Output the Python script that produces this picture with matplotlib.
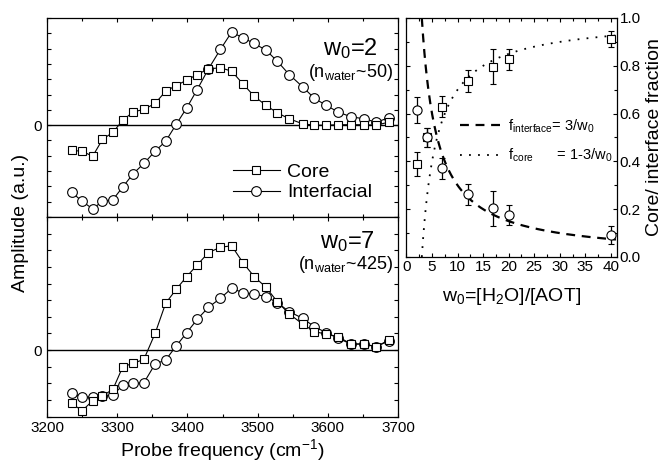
import numpy as np
import matplotlib.pyplot as plt
from matplotlib.lines import Line2D
from matplotlib.ticker import MultipleLocator

plt.rcParams['font.family'] = ['Liberation Sans', 'DejaVu Sans']
plt.rcParams['mathtext.default'] = 'regular'
plt.rcParams['xtick.direction'] = 'in'
plt.rcParams['ytick.direction'] = 'in'
plt.rcParams['axes.linewidth'] = 0.9

# probe frequencies (cm-1)
freq = [3235, 3250, 3265, 3279, 3294, 3308, 3323, 3338, 3354, 3369, 3384, 3399,
        3414, 3430, 3447, 3463, 3479, 3495, 3512, 3528, 3545, 3564, 3581, 3598,
        3615, 3633, 3651, 3669, 3687]

# w0 = 2 spectra
core_w2 = [-1.65, -1.70, -2.03, -0.93, -0.46, 0.33, 0.87, 1.03, 1.42, 2.22, 2.59, 2.94,
           3.31, 3.68, 3.75, 3.53, 2.70, 1.90, 1.29, 0.81, 0.42, 0.09, 0.0, 0.0,
           0.03, 0.03, 0.03, 0.0, 0.20]
inter_w2 = [-4.38, -4.97, -5.47, -4.97, -4.86, -4.03, -3.16, -2.50, -1.70, -1.05, 0.05, 1.13,
            2.33, 3.68, 4.95, 6.08, 5.71, 5.34, 4.90, 4.18, 3.31, 2.51, 1.75, 1.29,
            0.85, 0.55, 0.42, 0.20, 0.48]

# w0 = 7 spectra
core_w7 = [-3.21, -3.65, -3.05, -2.77, -2.35, -1.00, -0.80, -0.56, 1.00, 2.81, 3.65, 4.42,
           5.12, 5.86, 6.18, 6.27, 5.26, 4.42, 3.77, 2.91, 2.17, 1.57, 1.10, 0.96,
           0.80, 0.36, 0.36, 0.20, 0.60]
inter_w7 = [-2.57, -2.85, -2.81, -2.77, -2.71, -2.11, -2.01, -1.97, -0.84, -0.60, 0.24, 1.04,
            1.85, 2.57, 3.11, 3.71, 3.45, 3.37, 3.21, 2.85, 2.31, 1.91, 1.40, 1.04,
            0.70, 0.36, 0.36, 0.20, 0.56]

# fractions vs w0
w0 = [2, 4, 7, 12, 17, 20, 40]
core_frac = [0.389, 0.50, 0.629, 0.738, 0.796, 0.827, 0.911]
core_err = [0.052, 0.038, 0.044, 0.046, 0.073, 0.045, 0.033]
inter_frac = [0.615, 0.50, 0.371, 0.262, 0.204, 0.176, 0.092]
inter_err = [0.054, 0.038, 0.043, 0.045, 0.073, 0.042, 0.036]

fig = plt.figure(figsize=(6.68, 4.66), dpi=100)
ax1 = fig.add_axes([0.0704, 0.5343, 0.5254, 0.4270])
ax2 = fig.add_axes([0.0704, 0.1062, 0.5254, 0.4281])
ax3 = fig.add_axes([0.6085, 0.4485, 0.3151, 0.5129])

sq = dict(marker='s', ms=6.4, mfc='white', mec='black', mew=0.8, color='black', lw=0.8)
ci = dict(marker='o', ms=7.0, mfc='white', mec='black', mew=0.8, color='black', lw=0.8)

panels = [(ax1, core_w2, inter_w2, (-6, 7)), (ax2, core_w7, inter_w7, (-4, 8))]
for ax, core, inter, lim in panels:
    ax.axhline(0, color='black', lw=1.0, zorder=1)
    ax.plot(freq, inter, **ci, zorder=3)
    ax.plot(freq, core, **sq, zorder=3)
    ax.set_xlim(3200, 3700)
    ax.set_ylim(*lim)
    yt = np.arange(lim[0], lim[1] + 1)
    ax.set_yticks(yt)
    ax.set_yticklabels(['0' if v == 0 else '' for v in yt], fontsize=11)
    ax.xaxis.set_major_locator(MultipleLocator(100))
    ax.xaxis.set_minor_locator(MultipleLocator(50))
    ax.tick_params(which='both', top=True, right=True, length=3, width=0.8)
    ax.tick_params(which='minor', length=2)

ax1.tick_params(axis='x', labelbottom=False)
ax2.tick_params(axis='x', labelsize=11)
ax2.set_xlabel('Probe frequency (cm$^{-1}$)', fontsize=14, labelpad=1)

ax1.text(0.943, 0.814, 'w$_0$=2', transform=ax1.transAxes, ha='right',
         va='baseline', fontsize=17)
ax1.text(0.986, 0.704, '(n$_{water}$~50)', transform=ax1.transAxes, ha='right',
         va='baseline', fontsize=13)
ax2.text(0.934, 0.845, 'w$_0$=7', transform=ax2.transAxes, ha='right',
         va='baseline', fontsize=17)
ax2.text(0.986, 0.739, '(n$_{water}$~425)', transform=ax2.transAxes, ha='right',
         va='baseline', fontsize=13)

handles = [Line2D([], [], **sq), Line2D([], [], **ci)]
ax1.legend(handles, ['Core', 'Interfacial'], loc='upper left',
           bbox_to_anchor=(0.53, 0.27), frameon=False, fontsize=14,
           handlelength=2.4, handletextpad=0.4, labelspacing=0.15,
           borderpad=0, borderaxespad=0)

fig.text(0.03, 1 - 223 / 466, 'Amplitude (a.u.)', rotation=90, ha='center',
         va='center', fontsize=14)

# core / interface fractions with the geometric model
w_fit = np.linspace(3, 41, 300)
ax3.plot(w_fit, 3 / w_fit, ls=(0, (4, 3)), color='black', lw=1.6,
         label='f$_{interface}$= 3/w$_0$')
ax3.plot(w_fit, 1 - 3 / w_fit, ls=(0, (1, 4)), color='black', lw=1.3,
         label='f$_{core}$      = 1-3/w$_0$')
ax3.errorbar(w0, core_frac, yerr=core_err, fmt='s', ms=5.6, mfc='white', mec='black',
             mew=0.8, ecolor='black', elinewidth=0.9, capsize=2, capthick=0.9)
ax3.errorbar(w0, inter_frac, yerr=inter_err, fmt='o', ms=6.6, mfc='white', mec='black',
             mew=0.8, ecolor='black', elinewidth=0.9, capsize=2, capthick=0.9)
ax3.set_xlim(0, 41.2)
ax3.set_ylim(0, 1)
ax3.xaxis.set_major_locator(MultipleLocator(5))
ax3.xaxis.set_minor_locator(MultipleLocator(2.5))
ax3.yaxis.set_major_locator(MultipleLocator(0.2))
ax3.yaxis.set_minor_locator(MultipleLocator(0.1))
ax3.tick_params(which='both', top=True, right=True, left=True, labelleft=False,
                labelright=True, length=3, width=0.8, labelsize=11, pad=2)
ax3.tick_params(which='minor', length=2)
ax3.yaxis.set_label_position('right')
ax3.set_ylabel('Core/ interface fraction', fontsize=14, labelpad=4)
ax3.set_xlabel('w$_0$=[H$_2$O]/[AOT]', fontsize=14, labelpad=9)
ax3.legend(loc='upper left', bbox_to_anchor=(0.255, 0.585), frameon=False,
           fontsize=10.5, handlelength=3.0, handletextpad=0.3, labelspacing=0.85,
           borderpad=0, borderaxespad=0)

fig.savefig('out.png', dpi=100)
